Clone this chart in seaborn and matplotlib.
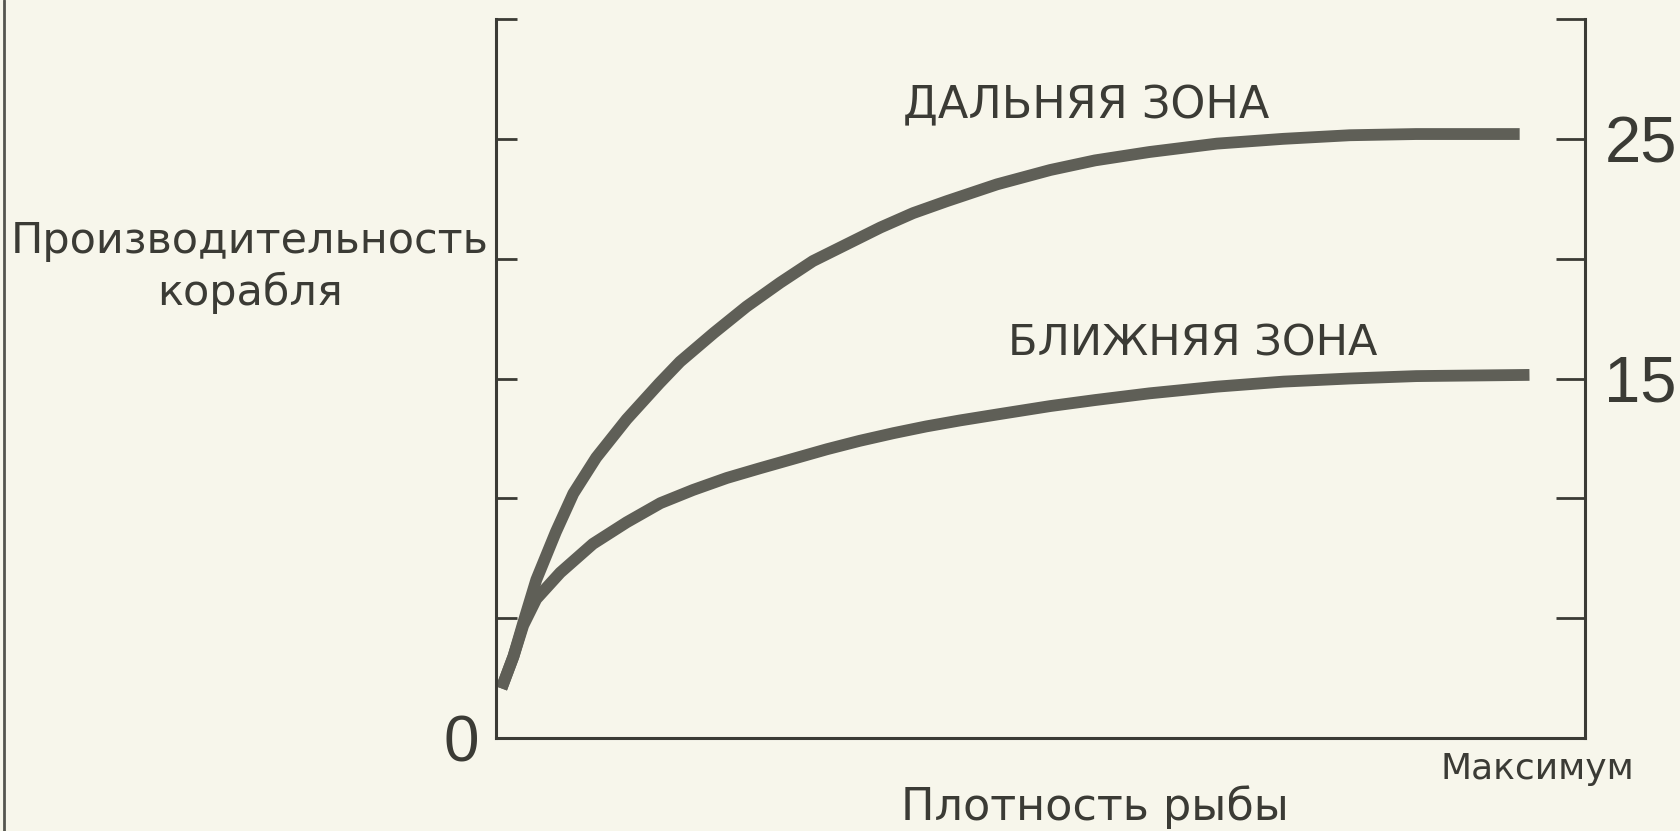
import matplotlib
matplotlib.use("Agg")
import matplotlib.pyplot as plt
import matplotlib.lines as mlines
import pandas as pd
import seaborn as sns

# fish density (0..10, "Максимум" near 9.5) vs ship productivity
far_x = [0.05, 0.16, 0.25, 0.37, 0.55, 0.71, 0.92, 1.2, 1.5, 1.69, 2.0, 2.3,
         2.61, 2.91, 3.22, 3.53, 3.83, 4.14, 4.6, 5.09, 5.5, 6.0, 6.62, 7.23,
         7.84, 8.45, 9.40]
far_y = [2.07, 3.4, 4.8, 6.6, 8.6, 10.2, 11.7, 13.3, 14.8, 15.7, 16.9, 18.0,
         19.0, 19.9, 20.6, 21.3, 21.9, 22.4, 23.1, 23.7, 24.1, 24.45, 24.8, 25.0,
         25.15, 25.2, 25.2]

near_x = [0.05, 0.16, 0.25, 0.37, 0.59, 0.89, 1.2, 1.51, 1.81, 2.12, 2.42,
          2.73, 3.04, 3.34, 3.65, 3.95, 4.26, 4.63, 5.09, 5.5, 6.0, 6.62, 7.23,
          7.84, 8.45, 9.49]
near_y = [2.07, 3.4, 4.7, 5.8, 6.9, 8.1, 9.0, 9.8, 10.35, 10.85, 11.25,
          11.65, 12.05, 12.4, 12.72, 13.0, 13.25, 13.52, 13.85, 14.1, 14.38,
          14.66, 14.87, 15.0, 15.1, 15.15]

zone_labels = ["ДАЛЬНЯЯ ЗОНА", "БЛИЖНЯЯ ЗОНА"]
left_ticks = [0, 5, 10, 15, 20, 25, 30]
right_ticks = [5, 10, 15, 20, 25, 30]
right_labels = ["", "", "15", "", "25", ""]
x_ticks = list(range(10))

BG = "#f7f6eb"
INK = "#3b3b35"
CURVE = "#5f5f57"

sns.set_theme(style="white")
plt.rcParams["font.family"] = ["DejaVu Sans"]

df = pd.concat([
    pd.DataFrame({"density": far_x, "prod": far_y, "zone": zone_labels[0]}),
    pd.DataFrame({"density": near_x, "prod": near_y, "zone": zone_labels[1]}),
])

fig = plt.figure(figsize=(16.8, 8.31), dpi=100, facecolor=BG)
ax = fig.add_axes([496 / 1680, 93 / 831, 1089 / 1680, 719 / 831])
ax.set_facecolor(BG)

sns.lineplot(data=df, x="density", y="prod", hue="zone", sort=False,
             palette=[CURVE, CURVE], linewidth=8.5, legend=False, ax=ax,
             solid_capstyle="butt", solid_joinstyle="round")

ax.set_xlim(0, 10)
ax.set_ylim(0, 30)

for side in ["left", "bottom"]:
    ax.spines[side].set_color(INK)
    ax.spines[side].set_linewidth(2.2)
ax.spines["top"].set_visible(False)
ax.spines["right"].set_visible(False)

ax.set_xticks(x_ticks)
ax.set_xticklabels([])
ax.tick_params(axis="x", direction="out", length=13, width=2, color=INK)

ax.set_yticks(left_ticks)
ax.set_yticklabels(["0"] + [""] * 6, fontsize=46, color=INK,
                   family="Liberation Sans")
ax.tick_params(axis="y", direction="in", length=15, width=2, color=INK, pad=12)

ax2 = ax.twinx()
ax2.set_ylim(0, 30)
for side in ["left", "top", "bottom"]:
    ax2.spines[side].set_visible(False)
ax2.spines["right"].set_color(INK)
ax2.spines["right"].set_linewidth(2.2)
ax2.set_yticks(right_ticks)
ax2.set_yticklabels(right_labels, fontsize=47, color=INK,
                    family="Liberation Sans")
ax2.tick_params(axis="y", direction="in", length=21, width=2, color=INK, pad=14)

ax.text(5.42, 25.85, zone_labels[0], fontsize=32, color=INK,
        ha="center", va="baseline")
ax.text(6.40, 15.98, zone_labels[1], fontsize=31, color=INK,
        ha="center", va="baseline")

ax.text(9.56, -1.3, "Максимум", fontsize=26, color=INK,
        ha="center", va="center", clip_on=False)

ax.set_xlabel("Плотность рыбы", fontsize=32, color=INK, va="top")
ax.xaxis.set_label_coords(0.55, -0.066)

ax.set_ylabel("Производительность\nкорабля", fontsize=31, color=INK,
              rotation=0, ha="center", va="center", linespacing=1.3)
ax.yaxis.set_label_coords(-0.226, 0.655)

# scanned page edge
fig.add_artist(mlines.Line2D([4 / 1680, 4 / 1680], [0, 1], color="#55554f",
                             linewidth=2, transform=fig.transFigure))

fig.savefig("out.png", dpi=100, facecolor=BG)
